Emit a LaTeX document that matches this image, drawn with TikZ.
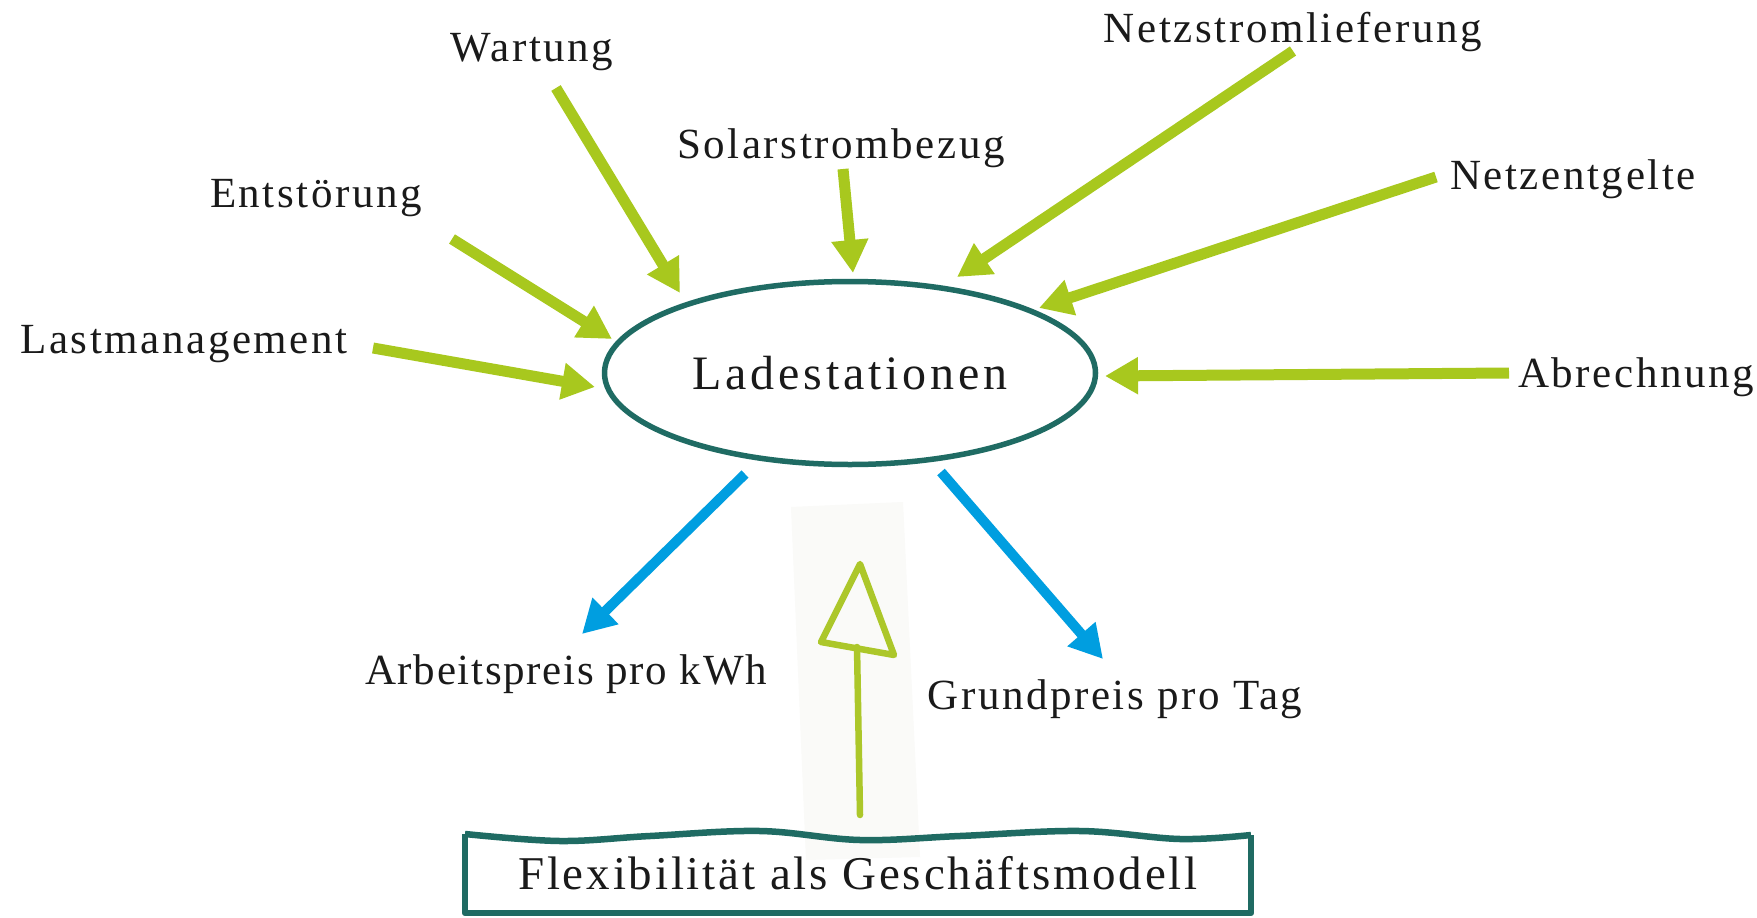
\documentclass[tikz,border=0pt]{standalone}
\usepackage{fontspec}
\setmainfont{Liberation Serif}
\newfontfamily\lblfont[LetterSpace=6]{Liberation Serif}
\newfontfamily\narrowfont[LetterSpace=4]{Liberation Serif}
\newfontfamily\bigfont[LetterSpace=8]{Liberation Serif}
\newfontfamily\boxfont[LetterSpace=6]{Liberation Serif}
\usetikzlibrary{arrows.meta,shapes.geometric}
\definecolor{lgreen}{HTML}{A8C81E}
\definecolor{hgreen}{HTML}{ACC72A}
\definecolor{lblue}{HTML}{009EE0}
\definecolor{dteal}{HTML}{1F6B63}
\definecolor{txt}{HTML}{1A1A1A}
\definecolor{faint}{HTML}{FAFAF8}
\begin{document}
\begin{tikzpicture}[x=1pt,y=-1pt,
  lbl/.style={anchor=base, inner sep=0pt, text=txt, font=\lblfont\fontsize{43}{50}\selectfont},
  garrow/.style={draw=lgreen, line width=11pt, -{Triangle[length=33pt,width=35pt]}},
  barrow/.style={draw=lblue, line width=10pt, -{Triangle[length=33pt,width=35pt]}},
  hand/.style={draw=hgreen, line width=6.5pt, line join=round, line cap=round},
  boxline/.style={draw=dteal, line width=6.5pt, line join=round}]
\useasboundingbox (0,0) rectangle (1757,918);
\fill[white] (0,0) rectangle (1757,918);

% central ellipse
\node[ellipse, draw=dteal, line width=5.5pt, minimum width=491pt, minimum height=183pt,
      inner sep=0pt, text=txt, font=\bigfont\fontsize{48}{56}\selectfont] (hub) at (850,373) {Ladestationen};

% labels
\node[lbl] (wartung) at (532,61) {Wartung};
\node[lbl] (entst) at (316,207) {Entstörung};
\node[lbl] (last) at (184,353) {Lastmanagement};
\node[lbl] (solar) at (841,158) {Solarstrombezug};
\node[lbl] (netzstrom) at (1293,42) {Netzstromlieferung};
\node[lbl] (netzent) at (1573,189) {Netzentgelte};
\node[lbl] (abr) at (1636,387) {Abrechnung};
\node[lbl, font=\narrowfont\fontsize{43}{50}\selectfont] (arbeit) at (566,684) {Arbeitspreis pro kWh};
\node[lbl] (grund) at (1115,709) {Grundpreis pro Tag};

% arrow end points
\coordinate (wS) at (556,88);   \coordinate (wT) at (680,293);
\coordinate (eS) at (452,239);  \coordinate (eT) at (612,339);
\coordinate (lS) at (373,348);  \coordinate (lT) at (595,387);
\coordinate (sS) at (843,169);  \coordinate (sT) at (853,273);
\coordinate (nS) at (1293,51);  \coordinate (nT) at (957,277);
\coordinate (gS) at (1436,177); \coordinate (gT) at (1039,308);
\coordinate (aS) at (1509,373); \coordinate (aT) at (1105,376);
\coordinate (b1S) at (745,474); \coordinate (b1T) at (582,634);
\coordinate (b2S) at (941,472); \coordinate (b2T) at (1103,659);

\draw[garrow] (wS) -- (wT);
\draw[garrow] (eS) -- (eT);
\draw[garrow] (lS) -- (lT);
\draw[garrow] (sS) -- (sT);
\draw[garrow] (nS) -- (nT);
\draw[garrow] (gS) -- (gT);
\draw[garrow] (aS) -- (aT);
\draw[barrow] (b1S) -- (b1T);
\draw[barrow] (b2S) -- (b2T);

% faint background of the hand-drawn arrow
\fill[faint] (791,507) -- (903,502) -- (920,857) -- (806,860) -- cycle;

% bottom box
\draw[boxline] (1251,835) -- (1251,913) -- (465,913) -- (465,834);
\draw[boxline] plot[smooth, tension=0.6] coordinates {(465,834) (560,841) (650,836) (760,831) (860,840) (960,836) (1080,831) (1180,839) (1251,835)};
\node[anchor=base, inner sep=0pt, text=txt, font=\boxfont\fontsize{47}{56}\selectfont] (flex) at (858,889) {Flexibilität als Geschäftsmodell};

% hand-drawn arrow
\coordinate (hS) at (860,815);
\coordinate (hT) at (857,647);
\draw[hand] (hS) -- (hT);
\draw[hand] (860,564) -- (894,655) -- (821,642) -- cycle;
\end{tikzpicture}
\end{document}
